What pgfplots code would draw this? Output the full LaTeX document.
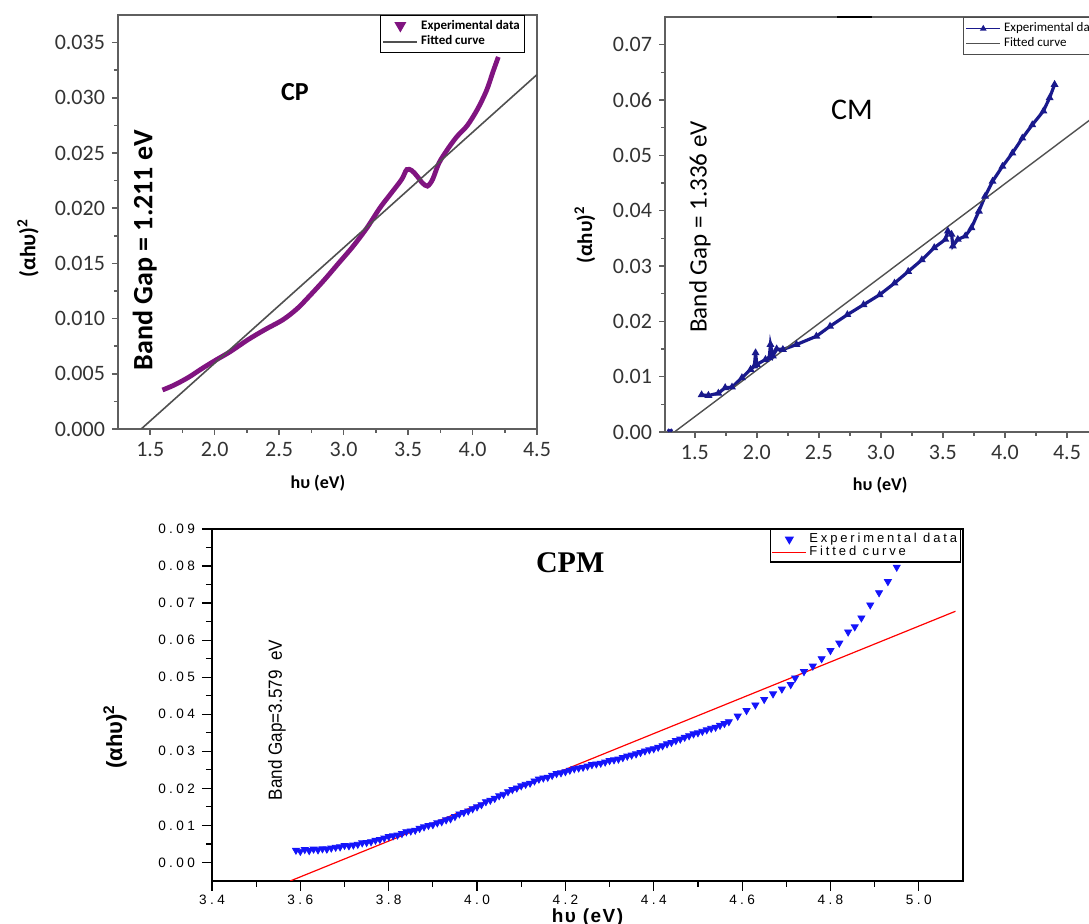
\documentclass[border=0pt]{standalone}
\usepackage{fontspec}
\setmainfont{Carlito}
\newfontfamily\arialsp[LetterSpace=25]{Liberation Sans}
\newfontfamily\arialleg[LetterSpace=22]{Liberation Sans}
\newfontfamily\arialb[LetterSpace=8]{Liberation Sans}
\newfontfamily\arialn{Liberation Sans}
\newfontfamily\timesf{Liberation Serif}
\usepackage{graphicx}
\usepackage{pgfplots}
\pgfplotsset{compat=1.18}

\definecolor{cpcol}{RGB}{128,20,128}
\definecolor{cmcol}{RGB}{25,25,140}
\definecolor{cpmcol}{RGB}{20,20,250}
\definecolor{framegray}{RGB}{95,95,95}
\definecolor{fitgray}{RGB}{80,80,80}

\pgfplotsset{
  topax/.style={
    scale only axis, anchor=south west,
    axis line style={draw=framegray, line width=0.9pt},
    tick align=outside, xtick pos=bottom, ytick pos=left,
    major tick length=3pt, minor tick length=2pt,
    minor x tick num=1, minor y tick num=1,
    tick style={framegray, line width=0.8pt},
    ticklabel style={font=\fontsize{11}{12}\selectfont, text=black!80},
    /pgf/number format/assume math mode=true,
    scaled y ticks=false, scaled x ticks=false,
    xticklabel style={/pgf/number format/fixed, /pgf/number format/fixed zerofill, /pgf/number format/precision=1},
    xlabel style={font=\bfseries\fontsize{9}{10}\selectfont, anchor=center},
    ylabel style={font=\bfseries\fontsize{11}{12}\selectfont, anchor=center},
    legend cell align=left,
  },
}

\begin{document}
\begin{tikzpicture}
\useasboundingbox (0,0) rectangle (544.5pt,462pt);
\clip (0,0) rectangle (544.5pt,462pt);

% ---------------- CP ----------------
\begin{axis}[topax, at={(59pt,247.5pt)}, width=209.5pt, height=207pt,
  xmin=1.25, xmax=4.5, ymin=0, ymax=0.0375,
  xtick={1.5,2.0,2.5,3.0,3.5,4.0,4.5},
  ytick={0,0.005,0.010,0.015,0.020,0.025,0.030,0.035},
  yticklabel style={/pgf/number format/fixed, /pgf/number format/fixed zerofill, /pgf/number format/precision=3},
  xlabel={hυ (eV)}, ylabel={(αhυ)\textsuperscript{2}},
  xlabel style={at={(axis description cs:0.477,-0.13)}},
  ylabel style={at={(axis description cs:-0.215,0.437)}},
  legend style={at={(axis description cs:0.625,1)}, anchor=north west,
    draw=black, line width=0.6pt, font=\bfseries\fontsize{6.5}{7}\selectfont,
    inner sep=1pt, row sep=-1.5pt, nodes={inner sep=1.5pt}},
]
\addplot[cpcol, line width=2.4pt, smooth,
  legend image code/.code={\draw[cpcol, mark=triangle*, mark size=1.1pt, mark options={rotate=180}] plot coordinates {(0.3cm,0.02cm)};}]
coordinates {
(1.595,0.00353)(1.69,0.0040)(1.80,0.0047)(1.905,0.0055)(2.01,0.00625)
(2.12,0.0070)(2.26,0.0081)(2.39,0.0090)(2.53,0.0099)(2.64,0.0109)
(2.74,0.0121)(2.85,0.0135)(2.96,0.0150)(3.07,0.0165)(3.18,0.0182)
(3.28,0.0200)(3.365,0.0213)(3.45,0.0226)(3.49,0.0235)(3.53,0.0234)
(3.57,0.0229)(3.61,0.0223)(3.65,0.0220)(3.69,0.0226)(3.74,0.0241)
(3.81,0.0254)(3.88,0.0265)(3.96,0.0275)(4.04,0.0290)(4.11,0.0307)
(4.16,0.0324)(4.20,0.0337)
};
\addlegendentry{Experimental data}
\addplot[fitgray, line width=0.8pt] coordinates {(1.43,0) (4.5,0.0321)};
\addlegendentry{Fitted curve}
\node[font=\bfseries\fontsize{13}{13}\selectfont] at (rel axis cs:0.422,0.814) {CP};
\node[rotate=90, font=\bfseries\fontsize{14}{14}\selectfont] at (rel axis cs:0.064,0.432) {Band Gap = 1.211 eV};
\end{axis}

% ---------------- CM ----------------
\begin{axis}[topax, at={(332.5pt,246pt)}, width=216.5pt, height=207.5pt,
  xmin=1.26, xmax=4.75, ymin=0, ymax=0.075,
  xtick={1.5,2.0,2.5,3.0,3.5,4.0,4.5},
  ytick={0,0.01,0.02,0.03,0.04,0.05,0.06,0.07},
  yticklabel style={/pgf/number format/fixed, /pgf/number format/fixed zerofill, /pgf/number format/precision=2},
  xlabel={hυ (eV)}, ylabel={(αhυ)\textsuperscript{2}},
  xlabel style={at={(axis description cs:0.497,-0.128)}},
  ylabel style={at={(axis description cs:-0.185,0.475)}, font=\bfseries\fontsize{10.5}{11}\selectfont},
  legend style={at={(axis description cs:0.688,1)}, anchor=north west,
    draw=black!70, line width=0.6pt, font=\fontsize{6.5}{7}\selectfont,
    inner sep=1pt, row sep=-1.5pt, nodes={inner sep=1.5pt}},
]
\addplot[cmcol, line width=1.6pt, mark=triangle*, mark size=0.7pt,
  legend image post style={line width=0.6pt, mark size=1.3pt}]
coordinates {
(1.555,0.0067)(1.61,0.0066)(1.69,0.0070)(1.745,0.0080)(1.80,0.0081)
(1.88,0.0098)(1.95,0.0113)(1.98,0.0119)(1.99,0.0143)(2.00,0.0122)
(2.07,0.0131)(2.10,0.0134)(2.11,0.0158)(2.13,0.0137)(2.16,0.0150)
(2.21,0.0149)(2.32,0.0158)(2.48,0.0173)(2.59,0.0191)(2.73,0.0212)
(2.86,0.0230)(2.99,0.0248)(3.11,0.0269)(3.22,0.0290)(3.33,0.0311)
(3.43,0.0333)(3.52,0.0348)(3.54,0.0363)(3.57,0.0357)(3.58,0.0336)
(3.62,0.0348)(3.68,0.0354)(3.73,0.0369)(3.79,0.0399)(3.84,0.0426)
(3.90,0.0453)(3.98,0.0480)(4.06,0.0504)(4.14,0.0531)(4.22,0.0555)
(4.31,0.0580)(4.36,0.0604)(4.40,0.0628)
};
\addlegendentry{Experimental data}
\addplot[fitgray, line width=0.7pt] coordinates {(1.336,0) (4.75,0.0575)};
\addlegendentry{Fitted curve}
\addplot[cmcol, only marks, mark=*, mark size=0.7pt, forget plot] coordinates {(1.29,0.0003) (1.31,0.0003)};
\draw[black, line width=1.5pt] (rel axis cs:0.397,1) -- (rel axis cs:0.478,1);
\node[font=\fontsize{15}{15}\selectfont] at (rel axis cs:0.432,0.776) {CM};
\node[rotate=90, font=\fontsize{12.5}{13}\selectfont] at (rel axis cs:0.081,0.494) {Band Gap = 1.336 eV};
\end{axis}

% ---------------- CPM ----------------
\begin{axis}[scale only axis, anchor=south west, at={(106pt,21.5pt)}, width=375.5pt, height=176pt,
  xmin=3.4, xmax=5.1, ymin=-0.005, ymax=0.09,
  axis line style={black, line width=0.8pt},
  tick align=outside, xtick pos=bottom, ytick pos=left,
  major tick length=5pt, minor tick length=3pt,
  minor x tick num=1, minor y tick num=1,
  tick style={black, line width=0.6pt},
  scaled y ticks=false, scaled x ticks=false,
  xtick={3.4,3.6,3.8,4.0,4.2,4.4,4.6,4.8,5.0},
  xticklabels={3.4,3.6,3.8,4.0,4.2,4.4,4.6,4.8,5.0},
  ytick={0,0.01,0.02,0.03,0.04,0.05,0.06,0.07,0.08,0.09},
  yticklabels={0.00,0.01,0.02,0.03,0.04,0.05,0.06,0.07,0.08,0.09},
  ticklabel style={font=\arialsp\fontsize{6.8}{7.5}\selectfont},
  xticklabel style={yshift=1.5pt},
  xlabel={hυ (eV)}, ylabel={(αhυ)\textsuperscript{2}},
  xlabel style={at={(axis description cs:0.5,-0.105)}, anchor=center, font=\arialb\bfseries\fontsize{9.5}{10}\selectfont},
  ylabel style={at={(axis description cs:-0.129,0.41)}, anchor=center, font=\arialn\bfseries\fontsize{11}{12}\selectfont},
  legend cell align=left,
  legend style={at={(axis description cs:0.743,1)}, anchor=north west,
    draw=black, line width=0.7pt, font=\arialleg\fontsize{6.5}{6.5}\selectfont,
    inner sep=0.5pt, row sep=-2pt, nodes={inner sep=1.2pt}},
]
\addplot[only marks, mark=triangle*, mark size=2pt, mark options={rotate=180, fill=cpmcol, draw=cpmcol}]
coordinates {
(3.59,0.0033)(3.60,0.0030)(3.61,0.0035)(3.62,0.0032)(3.63,0.0036)(3.64,0.0034)
(3.65,0.0037)(3.66,0.0036)(3.67,0.0039)(3.68,0.0041)(3.69,0.0042)(3.70,0.0046)
(3.71,0.0045)(3.72,0.0047)(3.73,0.0049)(3.74,0.0053)(3.75,0.0054)(3.76,0.0056)
(3.77,0.0060)(3.78,0.0062)(3.79,0.0066)(3.80,0.0070)(3.81,0.0072)(3.82,0.0074)
(3.83,0.0078)(3.84,0.0083)(3.85,0.0085)(3.86,0.0087)(3.87,0.0092)(3.88,0.0096)
(3.89,0.0100)(3.90,0.0102)(3.91,0.0107)(3.92,0.0110)(3.93,0.0115)(3.94,0.0118)
(3.95,0.0124)(3.96,0.0131)(3.97,0.0135)(3.98,0.0139)(3.99,0.0145)(4.00,0.0150)
(4.01,0.0156)(4.02,0.0164)(4.03,0.0168)(4.04,0.0173)(4.05,0.0180)(4.06,0.0184)
(4.07,0.0191)(4.08,0.0197)(4.09,0.0201)(4.10,0.0207)(4.11,0.0211)(4.12,0.0214)
(4.13,0.0220)(4.14,0.0225)(4.15,0.0228)(4.16,0.0230)(4.17,0.0235)(4.18,0.0240)
(4.19,0.0242)(4.20,0.0245)(4.21,0.0249)(4.22,0.0253)(4.23,0.0255)(4.24,0.0257)
(4.25,0.0260)(4.26,0.0264)(4.27,0.0266)(4.28,0.0268)(4.29,0.0271)(4.30,0.0275)
(4.31,0.0277)(4.32,0.0279)(4.33,0.0283)(4.34,0.0287)(4.35,0.0290)(4.36,0.0293)
(4.37,0.0297)(4.38,0.0301)(4.39,0.0304)(4.40,0.0307)(4.41,0.0311)(4.42,0.0315)
(4.43,0.0320)(4.44,0.0324)(4.45,0.0329)(4.46,0.0333)(4.47,0.0338)(4.48,0.0342)
(4.49,0.0347)(4.50,0.0350)(4.51,0.0354)(4.52,0.0358)(4.53,0.0362)(4.54,0.0365)
(4.55,0.0370)(4.56,0.0375)(4.57,0.0380)
(4.59,0.0395)(4.61,0.0410)(4.63,0.0425)(4.65,0.0440)(4.67,0.0455)
(4.69,0.0468)(4.71,0.0480)(4.72,0.0498)(4.74,0.0515)(4.76,0.0530)
(4.78,0.0550)(4.80,0.0572)(4.82,0.0592)(4.84,0.0622)(4.855,0.0636)
(4.87,0.0660)(4.89,0.0695)(4.91,0.0728)(4.93,0.0758)(4.95,0.0797)
};
\addlegendentry{Experimental data}
\addplot[red, line width=0.6pt] coordinates {(3.577,-0.005) (5.083,0.0678)};
\addlegendentry{Fitted curve}
\node[font=\timesf\bfseries\fontsize{15}{15}\selectfont] at (rel axis cs:0.477,0.903) {CPM};
\node[rotate=90] at (rel axis cs:0.0866,0.457) {\scalebox{0.9}[1]{\arialn\fontsize{9.5}{10}\selectfont Band Gap=3.579\ \ eV}};
\end{axis}
\end{tikzpicture}
\end{document}
